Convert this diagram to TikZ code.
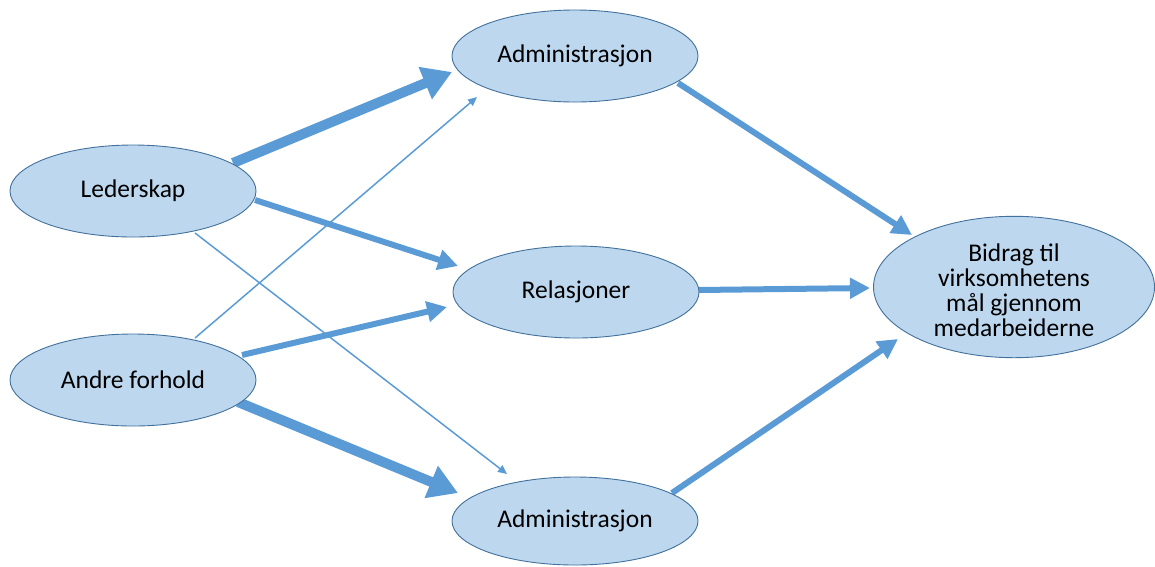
\documentclass[tikz,border=0pt]{standalone}
\usepackage{fontspec}
\setmainfont{Carlito}
\usetikzlibrary{shapes.geometric,arrows.meta,backgrounds}
\definecolor{efill}{HTML}{BDD7EE}
\definecolor{edraw}{HTML}{41719C}
\definecolor{arr}{HTML}{5B9BD5}
\tikzset{
  oval/.style={ellipse, draw=edraw, fill=efill, line width=0.9pt, inner sep=0pt,
    minimum width=246pt, minimum height=92pt, font=\fontsize{25.5}{24}\selectfont, align=center},
  bigoval/.style={oval, minimum width=281pt, minimum height=140pt},
  thickarr/.style={draw=arr, line width=10pt, -{Triangle[length=29pt,width=33pt]}},
  medarr/.style={draw=arr, line width=6pt, -{Triangle[length=20pt,width=20pt]}},
  thinarr/.style={draw=arr, line width=1.5pt, -{Triangle[length=9pt,width=8pt]}},
}
\begin{document}
\begin{tikzpicture}[x=1pt,y=-1pt]
\useasboundingbox (0,0) rectangle (1155,566);
\node[oval] (lead) at (133,191) {Lederskap};
\node[oval] (andre) at (133,380) {Andre forhold};
\node[oval] (admt) at (575,56) {Administrasjon};
\node[oval] (rel) at (576,292) {Relasjoner};
\node[oval, minimum height=88pt] (admb) at (575,521) {Administrasjon};
\node[bigoval] (bid) at (1014,287) {\raisebox{-7pt}[\height][\depth]{\begin{tabular}{@{}c@{}}Bidrag til\\virksomhetens\\mål gjennom\\medarbeiderne\end{tabular}}};
\begin{pgfonlayer}{background}
\draw[thickarr] ([shift={(100pt,28pt)}]lead.center) -- ([shift={(-123pt,-16pt)}]admt.center);
\draw[medarr] ([shift={(122pt,-9pt)}]lead.center) -- ([shift={(-118pt,26pt)}]rel.center);
\draw[thinarr] ([shift={(62pt,-42pt)}]lead.center) -- ([shift={(-68pt,47pt)}]admb.center);
\draw[thinarr] ([shift={(62pt,42pt)}]andre.center) -- ([shift={(-98pt,-41pt)}]admt.center);
\draw[medarr] ([shift={(109pt,25pt)}]andre.center) -- ([shift={(-129pt,-15pt)}]rel.center);
\draw[thickarr] ([shift={(105pt,-22pt)}]andre.center) -- ([shift={(-117pt,28pt)}]admb.center);
\draw[medarr] ([shift={(103pt,-27pt)}]admt.center) -- ([shift={(-102pt,52pt)}]bid.center);
\draw[medarr] ([shift={(122pt,2pt)}]rel.center) -- ([shift={(-144pt,-1pt)}]bid.center);
\draw[medarr] ([shift={(97pt,28pt)}]admb.center) -- ([shift={(-116pt,-52pt)}]bid.center);
\end{pgfonlayer}
\end{tikzpicture}
\end{document}
